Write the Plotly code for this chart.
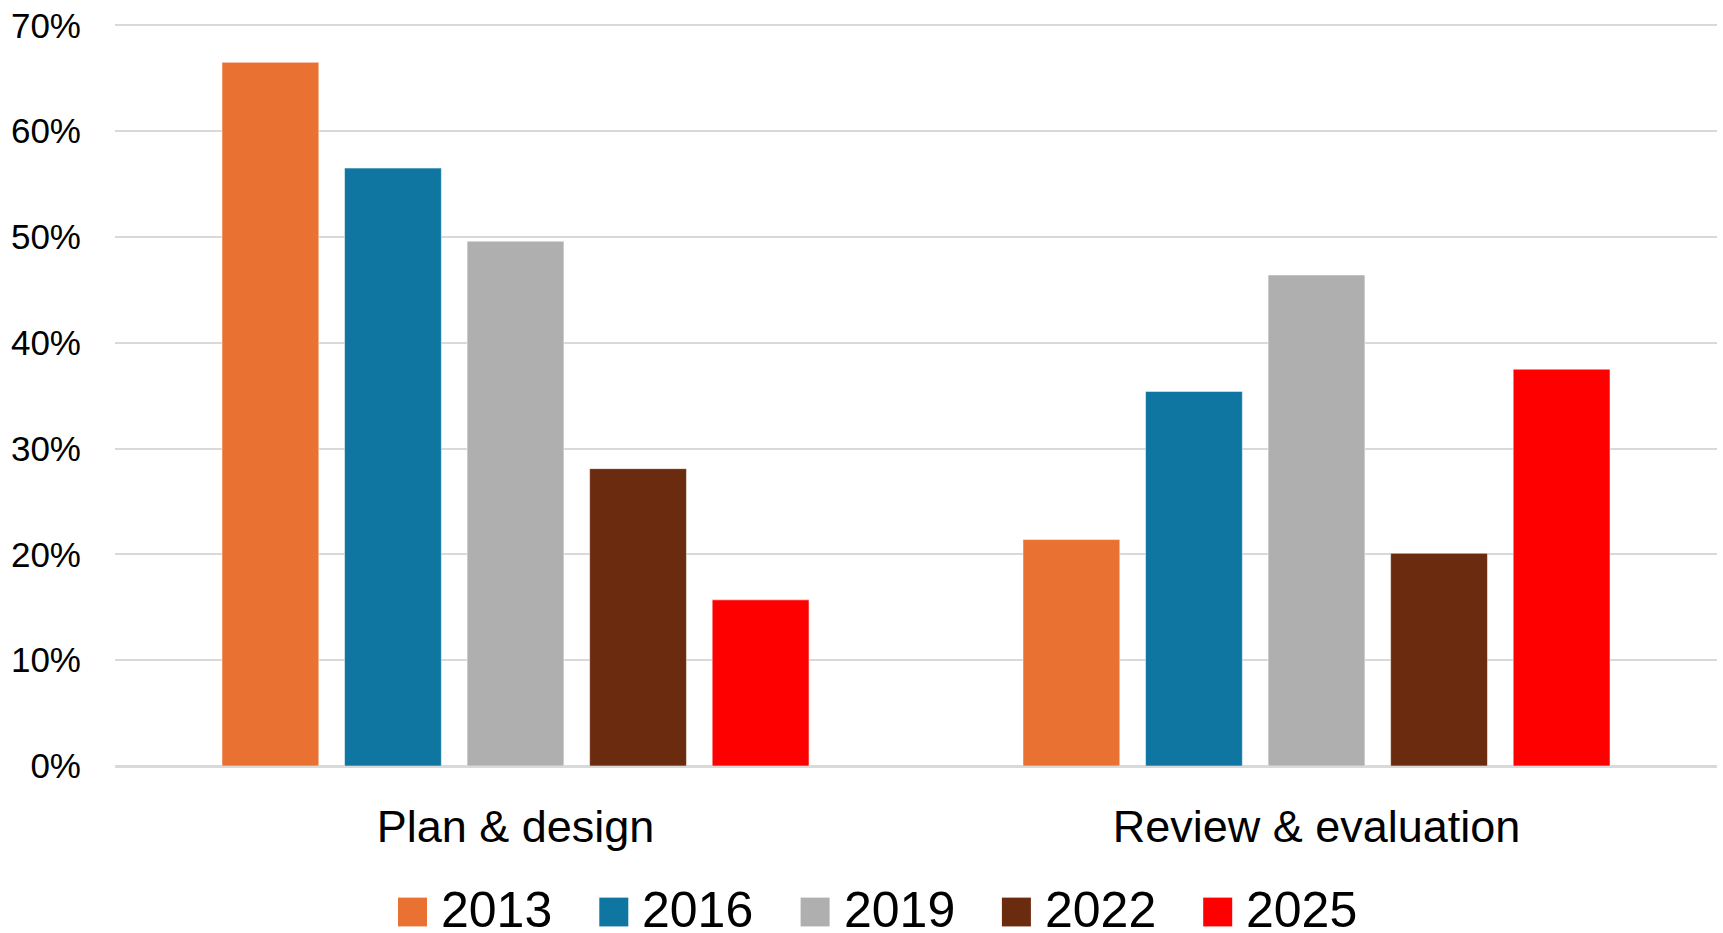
import plotly.graph_objects as go

categories = ["Plan & design", "Review & evaluation"]
years = ["2013", "2016", "2019", "2022", "2025"]
values_2013 = [0.665, 0.214]
values_2016 = [0.565, 0.354]
values_2019 = [0.496, 0.464]
values_2022 = [0.281, 0.201]
values_2025 = [0.157, 0.375]
series = [values_2013, values_2016, values_2019, values_2022, values_2025]
colors = ["#E97132", "#0E76A0", "#AFAFAF", "#6A2B0E", "#FF0000"]

W, H = 1723, 933
L, R, T, B = 115, 6, 19, 167
PW, PH = W - L - R, H - T - B

def px(x):
    return (x - L) / PW

def py(y):
    return (H - B - y) / PH

FONT = "Liberation Sans, Arial, sans-serif"

fig = go.Figure()
for yr, vals, col in zip(years, series, colors):
    fig.add_trace(go.Bar(
        name=yr, x=categories, y=vals,
        marker=dict(color=col, line=dict(color="rgba(255,255,255,0.5)", width=1)),
        showlegend=False,
    ))

# custom legend (swatches + labels)
shapes = []
annotations = []
sq = 29
start = 398
step = 201.3
cy = 913
for i, (yr, col) in enumerate(zip(years, colors)):
    x0 = start + i * step
    shapes.append(dict(type="rect", xref="paper", yref="paper",
                       x0=px(x0), x1=px(x0 + sq), y0=py(cy + sq / 2), y1=py(cy - sq / 2),
                       fillcolor=col, line=dict(width=0)))
    annotations.append(dict(xref="paper", yref="paper", x=px(x0 + 41), y=py(cy - 2),
                            xanchor="left", yanchor="middle", text=yr, showarrow=False,
                            font=dict(size=50, color="#000000", family=FONT)))

fig.update_layout(
    width=W, height=H,
    margin=dict(l=L, r=R, t=T, b=B),
    paper_bgcolor="white", plot_bgcolor="white",
    barmode="group", bargap=0.235, bargroupgap=0.21,
    font=dict(family=FONT, color="#000000"),
    showlegend=False,
    shapes=shapes, annotations=annotations,
    xaxis=dict(
        tickfont=dict(size=45, color="#000000"),
        showgrid=False, showline=False, ticks="",
        ticklabelstandoff=30,
    ),
    yaxis=dict(
        range=[0, 0.7012], tickvals=[0, 0.1, 0.2, 0.3, 0.4, 0.5, 0.6, 0.7],
        tickformat=".0%",
        tickfont=dict(size=35, color="#000000"),
        showgrid=True, gridcolor="#D9D9D9", gridwidth=1.5,
        zeroline=True, zerolinecolor="#D9D9D9", zerolinewidth=2.5,
        showline=False, ticks="",
        ticklabelstandoff=33,
    ),
)

fig.write_html("out.html", config={"displayModeBar": False},
               post_script="document.body.style.margin='0';document.body.style.overflow='hidden';")
